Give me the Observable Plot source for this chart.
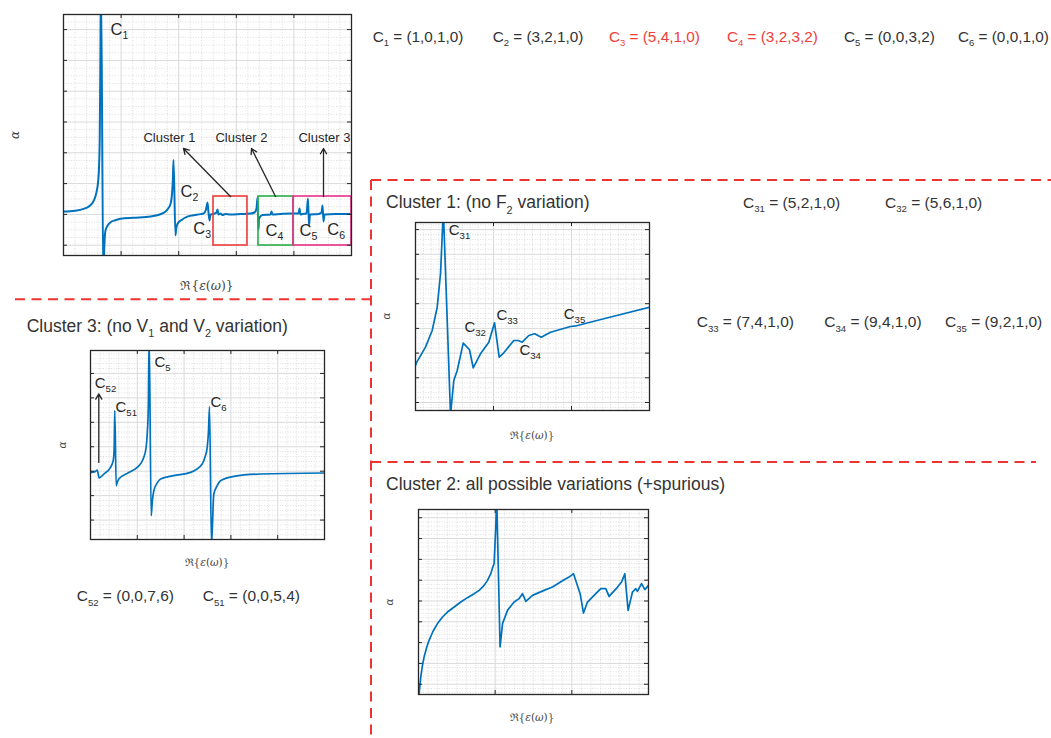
<!DOCTYPE html>
<html><head><meta charset="utf-8">
<script src="https://cdn.jsdelivr.net/npm/d3@7"></script>
<script src="https://cdn.jsdelivr.net/npm/@observablehq/plot@0.6"></script>
<style>
html,body{margin:0;padding:0;background:#fff;}
#page{position:relative;width:1051px;height:738px;overflow:hidden;font-family:"Liberation Sans",Arial,Helvetica,sans-serif;}
#page svg.panel{position:absolute;}
#overlay{position:absolute;left:0;top:0;pointer-events:none;}
</style></head>
<body><div id="page"></div>
<script>
// ---------------- DATA ----------------
// Overview curve (arbitrary units)
const mainX = [0,0.20,0.35,0.45,0.526,0.57,0.603,0.618,0.630,0.640,0.650,0.694,0.705,0.712,0.729,0.76,0.816,0.90,0.990,1.215,1.510,1.736,1.80,1.858,1.885,1.898,1.910,1.944,1.955,1.979,2.05,2.15,2.31,2.431,2.474,2.500,2.517,2.535,2.552,2.604,2.656,2.674,2.691,2.726,2.760,2.813,2.899,3.073,3.247,3.316,3.351,3.368,3.377,3.385,3.394,3.455,3.594,3.611,3.628,3.767,3.941,4.080,4.097,4.115,4.149,4.219,4.245,4.262,4.280,4.427,4.479,4.497,4.514,4.531,4.722,5.0];
const mainY = [1.094,1.12,1.18,1.27,1.45,1.70,2.10,2.60,3.6,6.0,8.6,-1.5,-0.3,0.10,0.477,0.62,0.747,0.81,0.857,0.89,0.93,1.05,1.15,1.34,1.70,2.10,2.77,0.315,0.52,0.70,0.82,0.93,0.99,1.029,1.159,1.386,1.062,0.802,0.997,1.013,1.062,1.159,0.997,1.029,0.981,1.013,0.997,1.013,1.029,1.062,1.192,1.549,0.964,0.510,0.867,0.981,0.997,1.094,0.997,1.013,1.029,1.029,1.192,0.997,1.013,1.029,1.516,0.640,0.997,1.013,1.062,1.289,0.769,0.997,1.013,1.013];
const mainPeakNames = ["1","2","3","4","5","6"];
const mainPeakX = [0.816,2.031,2.252,3.507,4.097,4.578];
const mainPeakY = [6.831,1.558,0.370,0.315,0.315,0.337];
const clusterNames = ["Cluster 1","Cluster 2","Cluster 3"];
const clusterLabelX = [1.84,3.09,4.53];
const clusterLabelY = [3.49,3.49,3.49];
const boxX1 = [2.604,3.385,3.993];
const boxX2 = [3.194,3.993,5.0];
const boxY1 = [-0.01,-0.01,-0.01];
const boxY2 = [1.581,1.581,1.581];
const boxColors = ["#ee3b3b","#2aae4a","#e6308a"];
const arrowFromX = [2.899,3.681,4.514];
const arrowToX = [2.083,3.264,4.514];
const arrowFromY = [1.581,1.581,1.581];
const arrowToY = [3.140,3.140,3.140];

// Cluster 1 curve
const c1X = [0,0.009,0.128,0.214,0.278,0.321,0.357,0.449,0.491,0.535,0.612,0.692,0.740,0.833,0.940,1.013,1.073,1.132,1.260,1.317,1.368,1.453,1.529,1.612,1.731,1.987,2.064,2.414,3.0];
const c1Y = [1.50,1.591,2.239,2.915,3.858,5.223,7.8,-0.5,0.891,1.296,2.401,2.134,1.405,1.972,2.441,3.227,1.834,2.012,2.510,2.510,2.441,2.713,2.781,2.644,2.846,3.077,3.105,3.389,3.858];
const c1PeakNames = ["31","32","33","34","35"];
const c1PeakX = [0.427,0.628,1.038,1.333,1.901];
const c1PeakY = [6.761,2.846,3.320,1.903,3.389];

// Cluster 3 curve
const c3X = [0,0.015,0.107,0.143,0.186,0.284,0.427,0.485,0.505,0.519,0.549,0.575,0.605,0.784,0.998,1.08,1.139,1.19,1.212,1.235,1.254,1.297,1.32,1.353,1.42,1.496,1.780,2.137,2.387,2.45,2.494,2.52,2.543,2.585,2.635,2.707,2.778,3.062,3.632,5.0];
const c3Y = [1.95,1.951,1.992,2.049,1.721,1.885,2.156,2.430,2.9,4.480,1.406,1.56,1.680,1.910,2.156,2.33,2.566,3.0,3.525,4.6,7.5,0.176,0.75,1.201,1.5,1.680,1.816,1.951,2.295,2.6,2.975,3.6,4.643,-1.0,1.066,1.406,1.611,1.787,1.885,1.926];
const c3PeakNames = ["5","52","51","6"];
const c3PeakX = [1.368,0.092,0.534,2.564];
const c3PeakY = [6.254,5.410,4.439,4.615];
const c3ArrowX = [0.177];
const c3ArrowY1 = [2.361];
const c3ArrowY2 = [5.164];

// Cluster 2 curve
const c2X = [0,0.008,0.017,0.030,0.052,0.073,0.108,0.138,0.191,0.248,0.313,0.378,0.465,0.552,0.639,0.725,0.791,0.856,0.900,0.943,0.969,0.986,1.008,1.02,1.064,1.096,1.161,1.247,1.312,1.356,1.400,1.487,1.638,1.748,1.899,1.964,2.022,2.108,2.152,2.204,2.290,2.378,2.443,2.486,2.596,2.648,2.691,2.734,2.791,2.834,2.856,2.909,2.952,3.0];
const c2Y = [-0.6,-0.446,-0.128,0.350,0.912,1.310,1.790,2.111,2.558,2.913,3.231,3.469,3.709,3.949,4.160,4.352,4.511,4.750,4.990,5.312,5.629,5.792,7.55,9.0,1.790,2.913,3.551,3.949,4.112,4.352,3.983,4.271,4.511,4.669,5.024,5.149,5.312,4.352,3.421,3.949,4.271,4.592,4.592,4.223,4.669,4.909,5.312,3.551,4.429,4.592,4.463,4.832,4.544,4.750];

// Text annotations
const topNames = ["1","2","3","4","5","6"];
const topValues = ["(1,0,1,0)","(3,2,1,0)","(5,4,1,0)","(3,2,3,2)","(0,0,3,2)","(0,0,1,0)"];
const topColors = ["#333","#333","#f03c3c","#f03c3c","#333","#333"];
const c1EqNames = ["31","32","33","34","35"];
const c1EqValues = ["(5,2,1,0)","(5,6,1,0)","(7,4,1,0)","(9,4,1,0)","(9,2,1,0)"];
const c3EqNames = ["52","51"];
const c3EqValues = ["(0,0,7,6)","(0,0,5,4)"];

// ---------------- DRAWING ----------------
const page = document.getElementById("page");
const FONT = "Liberation Sans, Arial, Helvetica, sans-serif";
const BLUE = "#0072BD";
const DARK = "#262626";

function minorVals(ticks, sub, dom) {
  const step = (ticks[1] - ticks[0]) / sub;
  const out = [];
  const start = Math.ceil(dom[0] / step - 1e-9);
  for (let k = start; k * step <= dom[1] + 1e-9; k++) {
    if (k % sub !== 0) out.push(k * step);
  }
  return out;
}

function panel(o) {
  const pad = 6;
  const {left, top, w, h, xDomain, yDomain, xTicks, yTicks, xSub, ySub, xs, ys} = o;
  const pts = xs.map((x, i) => ({x, y: ys[i]}));
  const tlx = (xDomain[1] - xDomain[0]) * 4 / w;
  const tly = (yDomain[1] - yDomain[0]) * 4 / h;
  const minorStyle = {stroke: "#cfcfcf", strokeWidth: 0.7, strokeDasharray: "1,1.6"};
  const marks = [
    Plot.ruleX(minorVals(xTicks, xSub, xDomain), minorStyle),
    Plot.ruleY(minorVals(yTicks, ySub, yDomain), minorStyle),
    Plot.ruleX(xTicks, {stroke: "#dadada", strokeWidth: 1}),
    Plot.ruleY(yTicks, {stroke: "#dadada", strokeWidth: 1}),
    Plot.line(pts, {x: "x", y: "y", stroke: BLUE, strokeWidth: o.lineWidth || 1.8, curve: o.curve || "linear", clip: true}),
    ...(o.marks || []),
    Plot.ruleX(xTicks, {y1: yDomain[0], y2: yDomain[0] + tly, stroke: DARK}),
    Plot.ruleX(xTicks, {y1: yDomain[1] - tly, y2: yDomain[1], stroke: DARK}),
    Plot.ruleY(yTicks, {x1: xDomain[0], x2: xDomain[0] + tlx, stroke: DARK}),
    Plot.ruleY(yTicks, {x1: xDomain[1] - tlx, x2: xDomain[1], stroke: DARK}),
    Plot.frame({stroke: DARK, strokeWidth: 1.3})
  ];
  const svg = Plot.plot({
    width: w + 2 * pad, height: h + 2 * pad, margin: pad,
    x: {domain: xDomain, axis: null},
    y: {domain: yDomain, axis: null},
    color: {type: "identity"},
    style: {fontFamily: FONT, background: "transparent", overflow: "visible"},
    marks
  });
  svg.classList.add("panel");
  svg.style.left = (left - pad) + "px";
  svg.style.top = (top - pad) + "px";
  page.appendChild(svg);
}

function peakLabels(names, xs, ys, size, subDx, subDy) {
  const d = names.map((n, i) => ({n, x: xs[i], y: ys[i]}));
  return [
    Plot.text(d, {x: "x", y: "y", text: () => "C", textAnchor: "start", lineAnchor: "bottom", fontSize: size, fill: DARK}),
    Plot.text(d, {x: "x", y: "y", text: "n", textAnchor: "start", lineAnchor: "bottom", fontSize: size * 0.64, dx: subDx, dy: subDy, fill: DARK})
  ];
}

// Overview panel
const boxes = boxColors.map((c, i) => ({x1: boxX1[i], x2: boxX2[i], y1: boxY1[i], y2: boxY2[i], c}));
const arrows = arrowFromX.map((x, i) => ({x1: x, y1: arrowFromY[i], x2: arrowToX[i], y2: arrowToY[i]}));
const clusterLbl = clusterNames.map((t, i) => ({t, x: clusterLabelX[i], y: clusterLabelY[i]}));
panel({
  left: 63, top: 14, w: 288, h: 241,
  xDomain: [0, 5], yDomain: [-0.334, 7.49],
  xTicks: d3.range(0, 6), yTicks: d3.range(0, 8), xSub: 5, ySub: 4,
  xs: mainX, ys: mainY, lineWidth: 2, curve: "monotone-x",
  marks: [
    Plot.rect(boxes, {x1: "x1", x2: "x2", y1: "y1", y2: "y2", stroke: "c", fill: "none", strokeWidth: 1.6}),
    Plot.arrow(arrows, {x1: "x1", y1: "y1", x2: "x2", y2: "y2", stroke: DARK, strokeWidth: 1.3, headLength: 7}),
    Plot.text(clusterLbl, {x: "x", y: "y", text: "t", fontSize: 13, fill: DARK}),
    ...peakLabels(mainPeakNames, mainPeakX, mainPeakY, 16.5, 12, 4)
  ]
});

// Cluster 1 panel
panel({
  left: 415, top: 222, w: 234, h: 188,
  xDomain: [0, 3], yDomain: [-0.324, 7.287],
  xTicks: d3.range(0, 4), yTicks: d3.range(0, 8), xSub: 10, ySub: 5,
  xs: c1X, ys: c1Y, lineWidth: 1.7,
  marks: peakLabels(c1PeakNames, c1PeakX, c1PeakY, 15, 10.8, 4)
});

// Cluster 3 panel
panel({
  left: 90, top: 350, w: 234, h: 189,
  xDomain: [0, 5], yDomain: [-0.795, 6.939],
  xTicks: d3.range(0, 6), yTicks: d3.range(0, 7), xSub: 5, ySub: 5,
  xs: c3X, ys: c3Y, lineWidth: 1.7, curve: "monotone-x",
  marks: [
    Plot.arrow(c3ArrowX.map((x, i) => ({x, y1: c3ArrowY1[i], y2: c3ArrowY2[i]})), {x1: "x", x2: "x", y1: "y1", y2: "y2", stroke: DARK, strokeWidth: 1.3, headLength: 7}),
    ...peakLabels(c3PeakNames, c3PeakX, c3PeakY, 15, 10.8, 4)
  ]
});

// Cluster 2 panel
panel({
  left: 418, top: 509, w: 230, h: 185,
  xDomain: [0, 3], yDomain: [-0.494, 8.397],
  xTicks: d3.range(0, 4), yTicks: d3.range(0, 9), xSub: 8, ySub: 5,
  xs: c2X, ys: c2Y, lineWidth: 1.7
});

// ---------------- OVERLAY (separators + text) ----------------
const ov = d3.select(page).append("svg").attr("id", "overlay").attr("width", 1051).attr("height", 738)
  .style("font-family", FONT);

const dash = {stroke: "#ee3333", "stroke-width": 2, "stroke-dasharray": "10,6.5", fill: "none"};
function dline(x1, y1, x2, y2) {
  const l = ov.append("line").attr("x1", x1).attr("y1", y1).attr("x2", x2).attr("y2", y2);
  for (const k in dash) l.attr(k, dash[k]);
}
dline(15, 299.3, 371, 299.3);
dline(371, 180, 371, 738);
dline(371, 180, 1051, 180);
dline(371, 462, 1036, 462);

function rich(x, y, parts, size, color) {
  const t = ov.append("text").attr("x", x).attr("y", y).attr("font-size", size).attr("fill", color);
  let shifted = false;
  for (const [s, sub] of parts) {
    const sp = t.append("tspan").text(s);
    if (sub && !shifted) { sp.attr("font-size", size * 0.62).attr("dy", size * 0.3); shifted = true; }
    else if (!sub && shifted) { sp.attr("dy", -size * 0.3); shifted = false; }
    else if (sub) sp.attr("font-size", size * 0.62);
  }
  return t;
}
function eq(x, y, name, value, color, size) {
  rich(x, y, [["C", false], [name, true], [" = " + value, false]], size || 15.5, color);
}

const topLeft = [372.7, 492.7, 609, 727, 844, 958];
topNames.forEach((n, i) => eq(topLeft[i], 41.5, n, topValues[i], topColors[i], 15.3));

const c1EqLeft = [743, 885, 696.7, 824.3, 945];
const c1EqBase = [207.7, 207.7, 327.3, 327.3, 327.3];
c1EqNames.forEach((n, i) => eq(c1EqLeft[i], c1EqBase[i], n, c1EqValues[i], "#333"));

const c3EqLeft = [76.7, 202.7];
c3EqNames.forEach((n, i) => eq(c3EqLeft[i], 601.3, n, c3EqValues[i], "#333"));

// Titles
rich(386, 208.3, [["Cluster 1: (no F", false], ["2", true], [" variation)", false]], 17.5, "#333");
rich(26.7, 331.7, [["Cluster 3: (no V", false], ["1", true], [" and V", false], ["2", true], [" variation)", false]], 17.5, "#333");
rich(386, 490, [["Cluster 2: all possible variations (+spurious)", false]], 17.5, "#333");

// Axis labels
function alpha(x, y, size) {
  ov.append("text").attr("transform", `translate(${x},${y}) rotate(-90)`)
    .attr("text-anchor", "middle").attr("dominant-baseline", "middle")
    .attr("font-family", "DejaVu Serif, Liberation Serif, serif").attr("font-style", "italic")
    .attr("font-size", size).attr("fill", "#444").text("α");
}
function reLabel(cx, y, size) {
  const t = ov.append("text").attr("x", cx).attr("y", y).attr("text-anchor", "middle")
    .attr("font-family", "DejaVu Serif, Liberation Serif, serif").attr("font-size", size).attr("fill", "#444");
  t.append("tspan").text("ℜ{");
  t.append("tspan").attr("font-style", "italic").text("ε");
  t.append("tspan").text("(");
  t.append("tspan").attr("font-style", "italic").text("ω");
  t.append("tspan").text(")}");
}
alpha(15, 135, 12);
reLabel(207, 289.5, 12.5);
alpha(387, 316, 10.5);
reLabel(532, 439, 10.5);
alpha(63, 445, 10.5);
reLabel(207, 566, 10.5);
alpha(390, 602, 10.5);
reLabel(532, 720.5, 10.5);
</script>
</body></html>
